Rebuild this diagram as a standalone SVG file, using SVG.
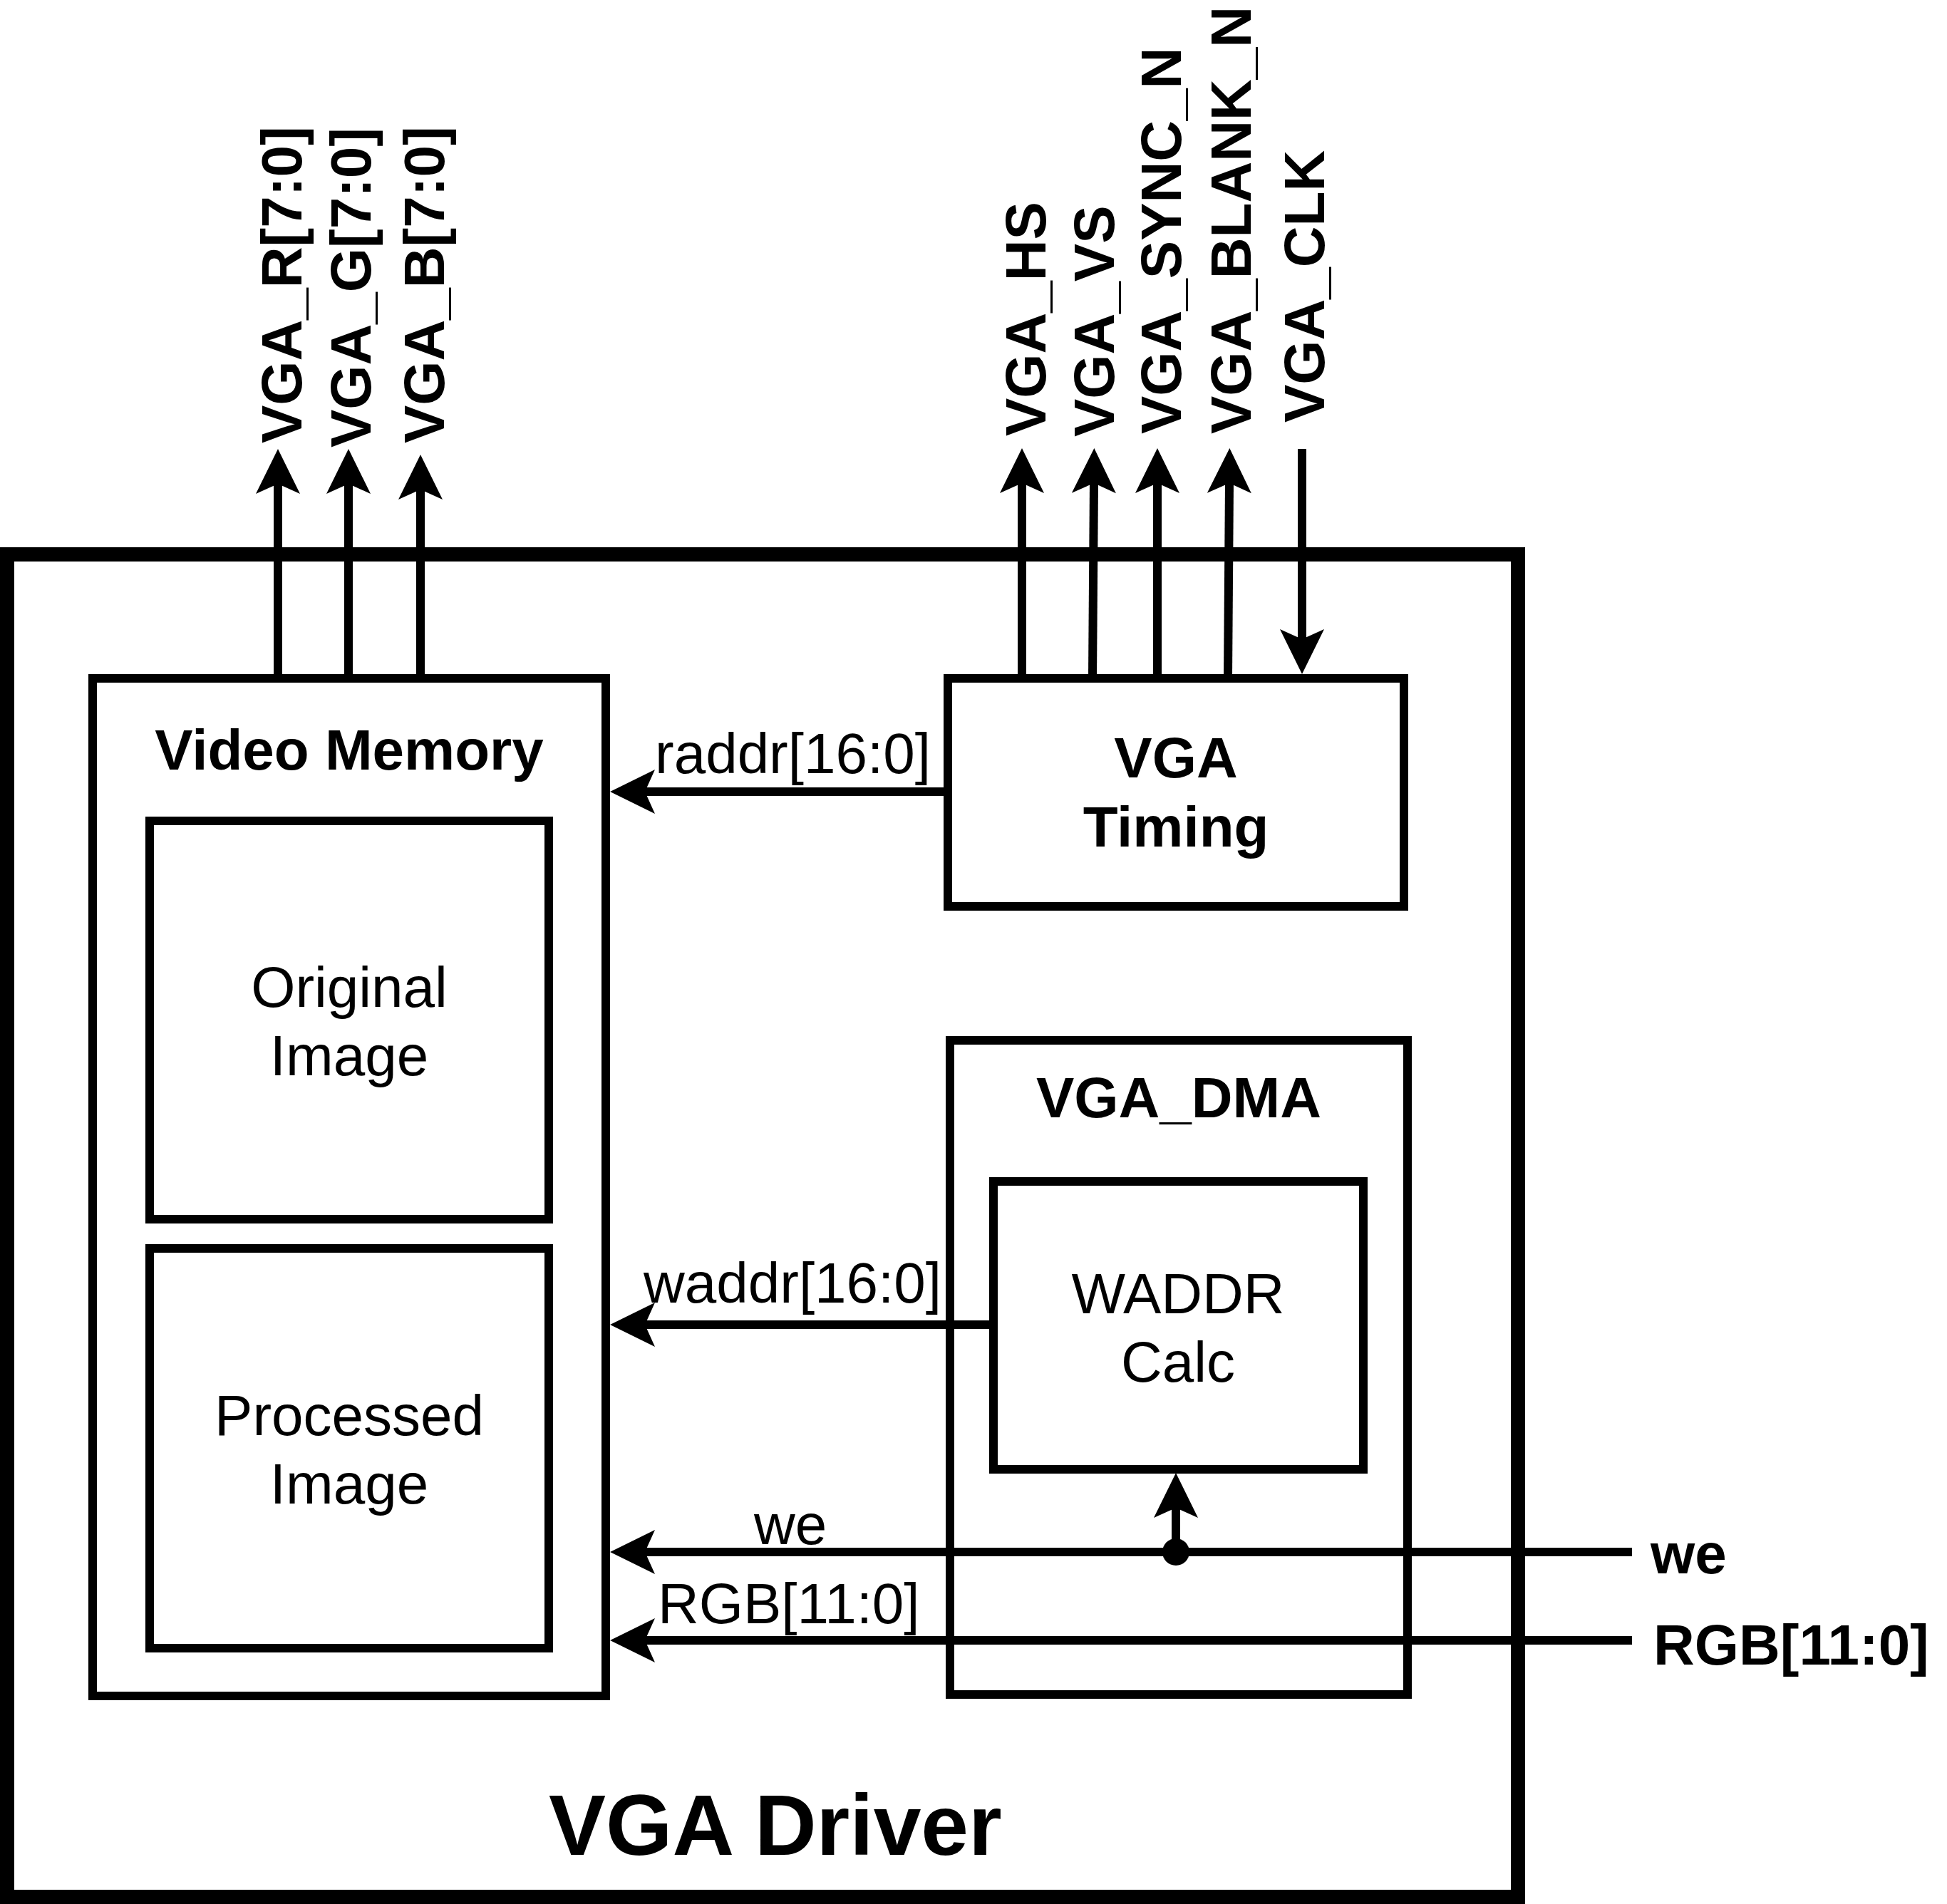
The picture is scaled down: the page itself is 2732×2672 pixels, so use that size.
<svg xmlns="http://www.w3.org/2000/svg" width="2732" height="2672" viewBox="0 0 2732 2672">
<style>
.box{fill:none;stroke:#000;stroke-width:12}
.outer{fill:none;stroke:#000;stroke-width:20}
.wire{fill:none;stroke:#000;stroke-width:12}
text{font-family:"Liberation Sans",Arial,sans-serif;font-size:80px;fill:#000}
.b{font-weight:bold}
.c{text-anchor:middle}
</style>
<defs>
<marker id="arr" markerUnits="userSpaceOnUse" markerWidth="80" markerHeight="80" viewBox="-20 -40 80 80" refX="0" refY="0" orient="auto" overflow="visible">
<path d="M49,0 L-14,-31 L0,0 L-14,31 Z" fill="#000"/>
</marker>
</defs>
<rect width="2732" height="2672" fill="#fff"/>

<g id="vga-driver">
<rect class="outer" x="10" y="778" width="2120" height="1884"/>
<text class="b" x="770" y="2603" style="font-size:120px">VGA Driver</text>
</g>

<g id="video-memory">
<rect class="box" x="130" y="952" width="720" height="1428"/>
<text class="b c" x="490" y="1080">Video Memory</text>
</g>

<g id="original-image">
<rect class="box" x="210" y="1152" width="560" height="559"/>
<text class="c" x="490" y="1413">Original</text>
<text class="c" x="490" y="1509">Image</text>
</g>

<g id="processed-image">
<rect class="box" x="210" y="1752" width="560" height="561"/>
<text class="c" x="490" y="2014">Processed</text>
<text class="c" x="490" y="2110">Image</text>
</g>

<g id="vga-timing">
<rect class="box" x="1330" y="952" width="640" height="320"/>
<text class="b c" x="1650" y="1091">VGA</text>
<text class="b c" x="1650" y="1188">Timing</text>
</g>

<g id="vga-dma">
<rect class="box" x="1333" y="1460" width="642" height="918"/>
<text class="b c" x="1654" y="1568">VGA_DMA</text>
</g>

<g id="waddr-calc">
<rect class="box" x="1394" y="1658" width="519" height="404"/>
<text class="c" x="1653" y="1843">WADDR</text>
<text class="c" x="1653" y="1939">Calc</text>
</g>

<g id="connectors">
<path class="wire" d="M390,952 V679" marker-end="url(#arr)"/>
<path class="wire" d="M489,952 V679" marker-end="url(#arr)"/>
<path class="wire" d="M590,952 V687" marker-end="url(#arr)"/>
<path class="wire" d="M1434,952 V678" marker-end="url(#arr)"/>
<path class="wire" d="M1533,952 L1535,678" marker-end="url(#arr)"/>
<path class="wire" d="M1624,952 V678" marker-end="url(#arr)"/>
<path class="wire" d="M1723,952 L1725,678" marker-end="url(#arr)"/>
<path class="wire" d="M1827,630 V897" marker-end="url(#arr)"/>
<path class="wire" d="M1330,1111 H905" marker-end="url(#arr)"/>
<path class="wire" d="M1394,1859 H905" marker-end="url(#arr)"/>
<path class="wire" d="M2290,2178 H905" marker-end="url(#arr)"/>
<path class="wire" d="M2290,2302 H905" marker-end="url(#arr)"/>
<path class="wire" d="M1650,2178 V2116" marker-end="url(#arr)"/>
<circle cx="1650" cy="2178" r="19" fill="#000"/>
</g>

<g id="labels">
<text class="b" transform="translate(423,622) rotate(-90)">VGA_R[7:0]</text>
<text class="b" transform="translate(520,628) rotate(-90)">VGA_G[7:0]</text>
<text class="b" transform="translate(623,622) rotate(-90)">VGA_B[7:0]</text>
<text class="b" transform="translate(1467,612) rotate(-90)">VGA_HS</text>
<text class="b" transform="translate(1563,613) rotate(-90)">VGA_VS</text>
<text class="b" transform="translate(1657,609) rotate(-90)">VGA_SYNC_N</text>
<text class="b" transform="translate(1755,609) rotate(-90)">VGA_BLANK_N</text>
<text class="b" transform="translate(1858,593) rotate(-90)">VGA_CLK</text>
<text x="919" y="1085">raddr[16:0]</text>
<text x="903" y="1828">waddr[16:0]</text>
<text x="1058" y="2167">we</text>
<text x="923" y="2278">RGB[11:0]</text>
<text class="b" x="2316" y="2208">we</text>
<text class="b" x="2320" y="2336">RGB[11:0]</text>
</g>
</svg>
